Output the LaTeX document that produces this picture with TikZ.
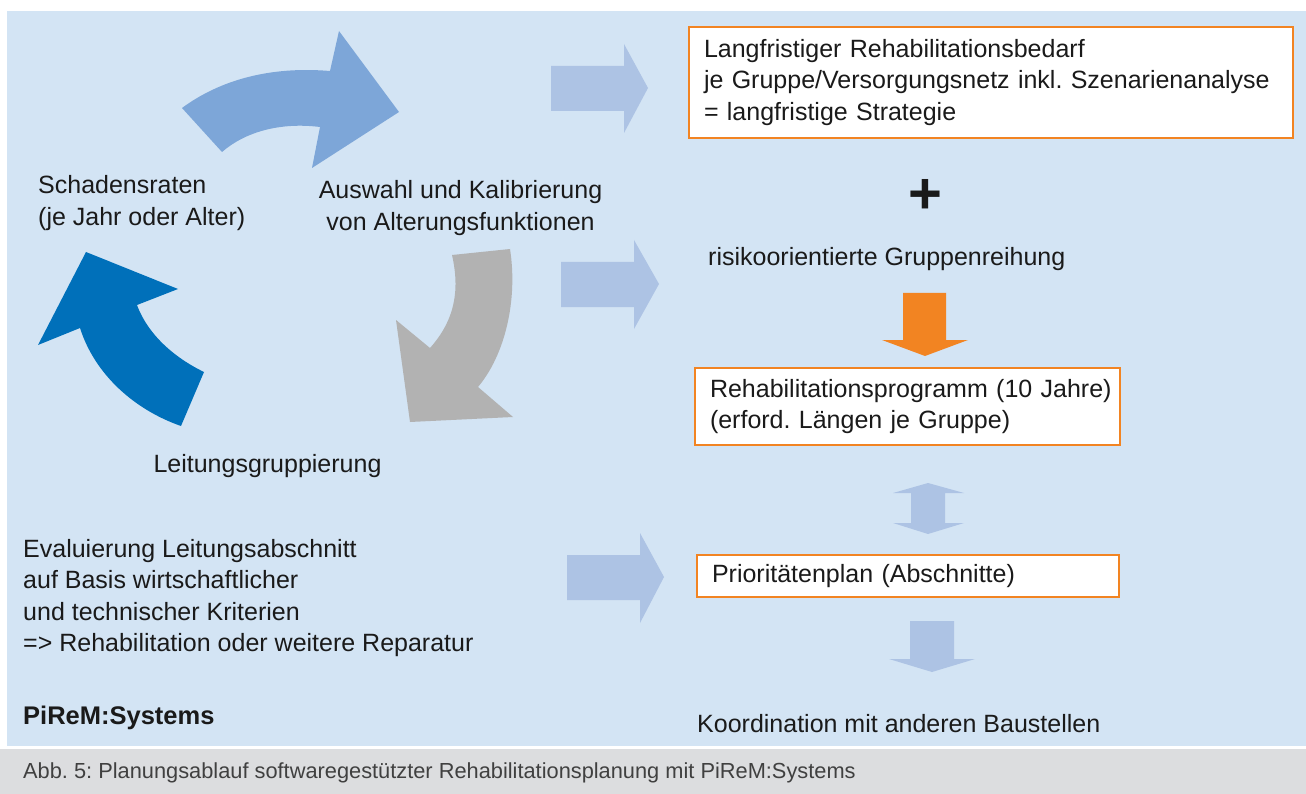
\documentclass[tikz,border=0pt]{standalone}
\usepackage{fontspec}
\setmainfont{Liberation Sans}
\frenchspacing
\definecolor{panelC}{HTML}{D3E4F4}
\definecolor{arrTopC}{HTML}{7DA6D8}
\definecolor{arrDarkC}{HTML}{0070BA}
\definecolor{arrGrayC}{HTML}{B2B2B2}
\definecolor{lightArrC}{HTML}{ADC3E4}
\definecolor{orangeC}{HTML}{F28422}
\definecolor{capBandC}{HTML}{DCDDDF}
\definecolor{capTextC}{HTML}{404040}
\definecolor{textC}{HTML}{1A1A1A}
\newcommand\mainsz{\fontsize{25}{31.5}\selectfont}
\newcommand\capsz{\fontsize{21.8}{26}\selectfont}
\tikzset{
  txt/.style={inner sep=0pt, font=\mainsz, align=left, text=textC},
  obox/.style={draw=orangeC, line width=2.5pt, fill=white, inner xsep=15pt, inner ysep=0pt, align=left, font=\mainsz, text=textC},
  lightarr/.style={fill=lightArrC},
}
\begin{document}
\begin{tikzpicture}[x=1pt,y=-1pt]
\useasboundingbox (0,0) rectangle (1306,794);
% background panel and caption band
\fill[panelC] (7,11) rectangle (1306,746);
\fill[capBandC] (0,749) rectangle (1306,794);

% curved cycle arrows
\fill[arrTopC] (182,108) .. controls (220,80) and (270,66) .. (330,71) -- (339,31) -- (399,112) -- (312,168) -- (320,127) .. controls (280,122) and (245,132) .. (222,152) -- cycle;
\fill[arrDarkC] (204,372) .. controls (175,358) and (148,335) .. (137,305) -- (178,289) -- (86,252) -- (38,345) -- (80,328) .. controls (95,375) and (135,410) .. (181,426) -- cycle;
\fill[arrGrayC] (452,255) -- (510,249) .. controls (518,300) and (505,355) .. (478,387) -- (513,417) -- (410,422) -- (396,320) -- (430,348) .. controls (455,320) and (460,290) .. (452,255) -- cycle;

% straight block arrows
\fill[lightarr] (551,66) -- (624,66) -- (624,44) -- (648,88) -- (624,133) -- (624,111) -- (551,111) -- cycle;
\fill[lightarr] (561,262) -- (634,262) -- (634,240) -- (659,284) -- (634,329) -- (634,307) -- (561,307) -- cycle;
\fill[lightarr] (567,555) -- (640,555) -- (640,533) -- (664,577) -- (640,623) -- (640,600) -- (567,600) -- cycle;
\fill[orangeC] (903,293) -- (946,293) -- (946,340) -- (968,340) -- (925,356) -- (882,340) -- (903,340) -- cycle;
\fill[lightarr] (928,483) -- (964,493) -- (945,493) -- (945,523) -- (964,523) -- (928,534) -- (893,523) -- (911,523) -- (911,493) -- (893,493) -- cycle;
\fill[lightarr] (910,621) -- (954,621) -- (954,659) -- (975,659) -- (932,672) -- (889,659) -- (910,659) -- cycle;

% left texts
\node[txt, anchor=west] (schaden) at (38,203) {Schadensraten\\(je Jahr oder Alter)};
\node[txt, align=center] (auswahl) at (460.5,208) {Auswahl und Kalibrierung\\von Alterungsfunktionen};
\node[txt] (leitung) at (267.5,466) {Leitungsgruppierung};
\node[txt, anchor=west] (evaluierung) at (23,598) {Evaluierung Leitungsabschnitt\\auf Basis wirtschaftlicher\\und technischer Kriterien\\=> Rehabilitation oder weitere Reparatur};
\node[txt, anchor=west, font=\fontsize{25.5}{30}\selectfont\bfseries] (pirem) at (23,718) {PiReM:Systems};

% right column
\node[obox, text width=574pt, minimum height=111pt] (b1) at (991,82.5) {Langfristiger Rehabilitationsbedarf\\\mbox{je Gruppe/Versorgungsnetz inkl. Szenarienanalyse}\\= langfristige Strategie};
\node[txt, font=\fontsize{58}{58}\selectfont\bfseries] (plus) at (925,196) {+};
\node[txt, anchor=west] (risiko) at (708,259) {risikoorientierte Gruppenreihung};
\node[obox, text width=395pt, minimum height=77pt] (b2) at (907.5,406.5) {\mbox{Rehabilitationsprogramm (10 Jahre)}\\(erford. Längen je Gruppe)};
\node[obox, text width=392pt, minimum height=42pt] (b3) at (908,576) {Prioritätenplan (Abschnitte)};
\node[txt, anchor=west] (koord) at (697,724) {Koordination mit anderen Baustellen};

% caption
\node[txt, anchor=west, font=\capsz, text=capTextC] (caption) at (23,773) {Abb. 5: Planungsablauf softwaregestützter Rehabilitationsplanung mit PiReM:Systems};
\end{tikzpicture}
\end{document}
